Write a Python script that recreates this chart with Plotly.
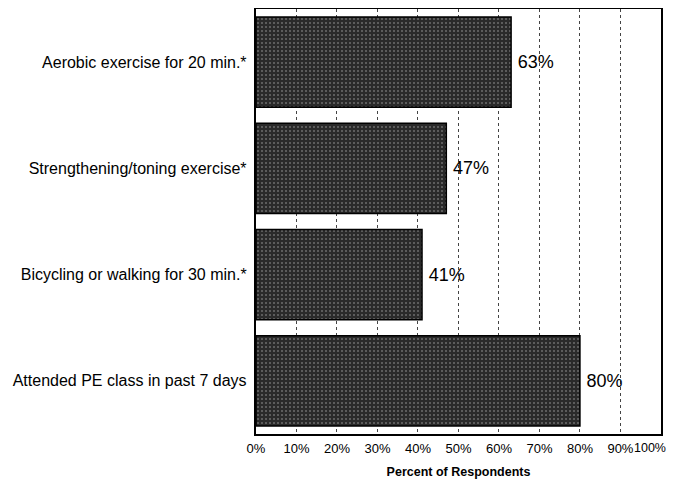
import plotly.graph_objects as go

categories = ["Aerobic exercise for 20 min.*", "Strengthening/toning exercise*",
              "Bicycling or walking for 30 min.*", "Attended PE class in past 7 days"]
values = [63, 47, 41, 80]
value_labels = ["63%", "47%", "41%", "80%"]
tick_vals = [0, 10, 20, 30, 40, 50, 60, 70, 80, 90, 100]
tick_text = ["0%", "10%", "20%", "30%", "40%", "50%", "60%", "70%", "80%", "90%", "100%"]

fig = go.Figure()
fig.add_trace(go.Bar(
    y=categories, x=values, orientation="h",
    text=value_labels, texttemplate="\u2009%{text}", textposition="outside",
    textfont=dict(family="Liberation Sans, Arial", size=18, color="black"),
    cliponaxis=False,
    marker=dict(color="#2a2a2a", line=dict(color="black", width=1.5),
                pattern=dict(shape=".", fgcolor="#b0b0b0", bgcolor="#2a2a2a",
                             size=4, solidity=0.2)),
))

# the page body adds an 8px margin, so the figure is sized to fit the window
fig.update_layout(
    width=660, height=471,
    margin=dict(l=248, r=7, t=1, b=45),
    paper_bgcolor="white", plot_bgcolor="white",
    bargap=0.15, showlegend=False,
    font=dict(family="Liberation Sans, Arial", color="black"),
)
# last tick label drawn as an annotation so it is not cut at the page edge
axis_text = tick_text[:-1] + [""]
fig.add_annotation(
    x=tick_vals[-1], xref="x", y=0, yref="paper", text=tick_text[-1],
    showarrow=False, xanchor="right", yanchor="middle", xshift=7, yshift=-14,
    font=dict(size=12.5, color="black"),
)
fig.update_xaxes(
    range=[0, 100.02], tickvals=tick_vals, ticktext=axis_text,
    tickfont=dict(size=13), showgrid=True, gridcolor="#444", griddash="dot",
    gridwidth=1, showline=True, linecolor="black", linewidth=1.5, mirror=True,
    zeroline=False, ticks="", ticklen=0, automargin=False,
    ticklabelstandoff=2,
    title=dict(text="<b>Percent of Respondents</b>", font=dict(size=12.5), standoff=17),
)
fig.update_yaxes(
    categoryorder="array", categoryarray=categories[::-1],
    tickfont=dict(size=16), showline=True, linecolor="black", linewidth=1.5,
    mirror=True, ticks="", ticksuffix=" ", showgrid=False, automargin=False,
)

fig.write_html("out.html")
